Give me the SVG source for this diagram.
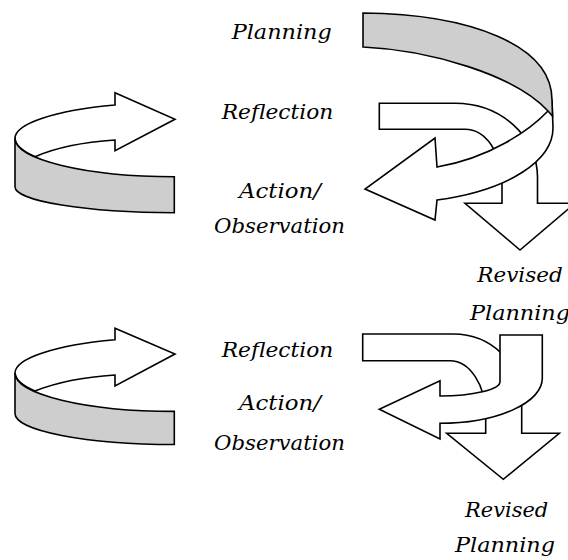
<svg xmlns="http://www.w3.org/2000/svg" width="568" height="560" viewBox="0 0 568 560">
<style>
.w{fill:#ffffff;stroke:#000;stroke-width:1.6;stroke-linejoin:miter}
.g{fill:#cecece;stroke:#000;stroke-width:1.6;stroke-linejoin:miter}
.t{font-family:"DejaVu Serif","Liberation Serif",serif;font-style:italic;font-size:19.5px;fill:#000}
</style>
<rect width="568" height="560" fill="#fff"/>
<!-- top cycle -->
<g id="top-left-arrow">
<path class="w" d="M15,138.3 A159.3 35.9 0 0 1 115,105 L115,92.7 L175,119.3 L115,150.7 L115,140 C85,142 55,148 35,156.7 A159.3 38.4 0 0 1 15,138.3 Z"/>
<path class="g" d="M15,138.3 L15,186.7 A159.3 26 0 0 0 174.3,212.7 L174.3,176.7 A159.3 38.4 0 0 1 15,138.3 Z"/>
</g>
<g id="top-reflection-arrow">
<path class="w" d="M379.3,103.3 L455,103.3 A82.5 73.7 0 0 1 537.5,177 L537.5,203.3 L575,203.3 L520,250 L465,203.3 L502,203.3 L502,182 A37 52.7 0 0 0 465,129.3 L379.3,129.3 Z"/>
</g>
<g id="top-planning-arrow">
<path class="w" d="M552,100 L553,128 C553,160 510,190 437,200 L435,220 L365,189 L435,138 L437,167 C490,158 530,130 548,111 Z"/>
<path class="g" d="M363,13 C470,14 552,45 552,100 L552.5,116 L548,111 C515,75 430,50 363,47 Z"/>
</g>
<!-- bottom cycle -->
<g id="bottom-left-arrow">
<path class="w" d="M15,373 A159.3 35.9 0 0 1 115,339.7 L115,328.3 L175,354 L115,386 L115,375 C85,377 55,383 35,391 A159.3 38.4 0 0 1 15,373 Z"/>
<path class="g" d="M15,373 L15,413.5 A159.3 31 0 0 0 174.3,444.5 L174.3,411.4 A159.3 38.4 0 0 1 15,373 Z"/>
</g>
<g id="bottom-reflection-arrow">
<path class="w" d="M362.7,334 L453.3,334 A68.4 66 0 0 1 521.7,400 L521.7,433.3 L559.3,433.3 L503.3,479.3 L446.7,433.3 L485.7,433.3 L485.7,415 A35.7 54.3 0 0 0 450,360.7 L362.7,360.7 Z"/>
</g>
<g id="bottom-revised-arrow">
<path class="w" d="M500,335 L542.3,335 L542.3,378.3 A102.3 45 0 0 1 440,423.3 L440,439 L379.3,409.3 L440,380.7 L440,396 A60 14.3 0 0 0 500,381.7 Z"/>
</g>
<!-- labels -->
<g id="labels">
<text class="t" x="231.7" y="39" textLength="100" lengthAdjust="spacingAndGlyphs">Planning</text>
<text class="t" x="221.7" y="119" textLength="111.6" lengthAdjust="spacingAndGlyphs">Reflection</text>
<text class="t" x="239" y="198.3" textLength="82" lengthAdjust="spacingAndGlyphs">Action/</text>
<text class="t" x="214" y="233.3" textLength="131" lengthAdjust="spacingAndGlyphs">Observation</text>
<text class="t" x="477.3" y="281.7" textLength="85.4" lengthAdjust="spacingAndGlyphs">Revised</text>
<text class="t" x="470" y="320" textLength="100" lengthAdjust="spacingAndGlyphs">Planning</text>
<text class="t" x="221.7" y="357" textLength="111.6" lengthAdjust="spacingAndGlyphs">Reflection</text>
<text class="t" x="239" y="410" textLength="82" lengthAdjust="spacingAndGlyphs">Action/</text>
<text class="t" x="214" y="450" textLength="131" lengthAdjust="spacingAndGlyphs">Observation</text>
<text class="t" x="465" y="516.7" textLength="83.3" lengthAdjust="spacingAndGlyphs">Revised</text>
<text class="t" x="455" y="551.7" textLength="100" lengthAdjust="spacingAndGlyphs">Planning</text>
</g>
</svg>
